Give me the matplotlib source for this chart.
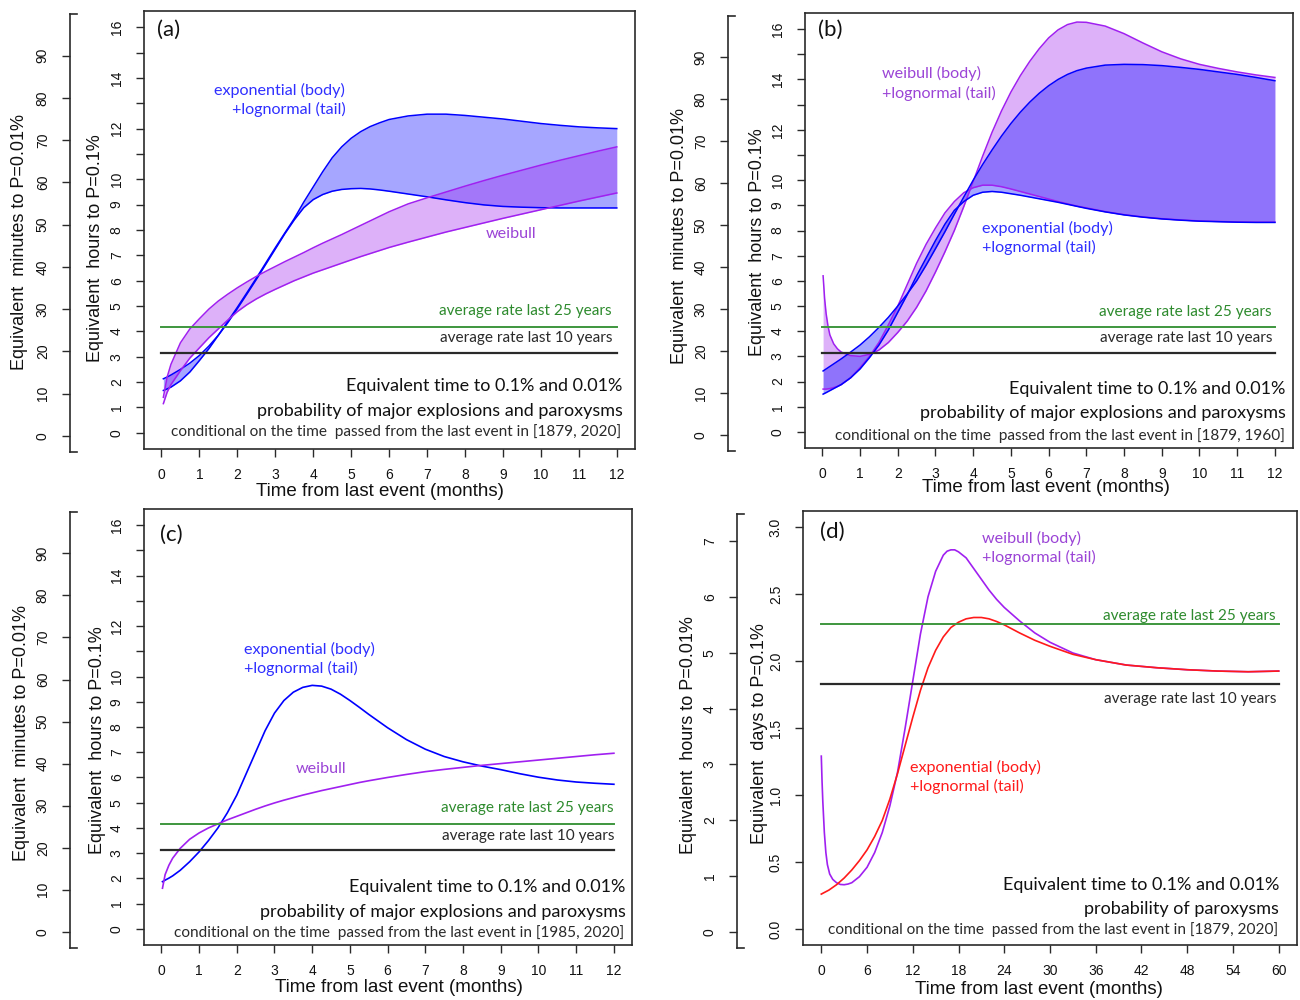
import matplotlib
matplotlib.use('Agg')
import matplotlib.pyplot as plt
from matplotlib.lines import Line2D

W, H = 1300, 1000
plt.rcParams['font.family'] = ['Liberation Sans', 'DejaVu Sans']
ANN_FONT = ['Lato', 'DejaVu Sans']

# ---------------- data (hours to P=0.1%) ----------------
# panel (a), 1879-2020
a_months = [0.05, 0.15, 0.25, 0.5, 0.75, 1, 1.25, 1.5, 1.75, 2, 2.25, 2.5, 2.75, 3, 3.25,
            3.5, 3.75, 4, 4.25, 4.5, 4.75, 5, 5.25, 5.5, 5.75, 6, 6.5, 7, 7.5, 8, 8.5, 9,
            9.5, 10, 10.5, 11, 11.5, 12]
a_exp_hi = [1.67, 1.73, 1.8, 2.05, 2.4, 2.85, 3.32, 3.85, 4.4, 4.95, 5.52, 6.1, 6.7, 7.3,
            7.88, 8.45, 9.1, 9.7, 10.3, 10.85, 11.28, 11.62, 11.88, 12.08, 12.23, 12.36,
            12.5, 12.57, 12.57, 12.52, 12.45, 12.38, 12.29, 12.2, 12.13, 12.07, 12.03, 12.0]
a_exp_lo = [2.13, 2.2, 2.28, 2.5, 2.75, 3.05, 3.42, 3.85, 4.35, 4.9, 5.47, 6.05, 6.65, 7.25,
            7.85, 8.4, 8.88, 9.2, 9.4, 9.53, 9.6, 9.63, 9.64, 9.62, 9.58, 9.53, 9.42, 9.31,
            9.19, 9.08, 8.99, 8.93, 8.9, 8.88, 8.87, 8.87, 8.87, 8.87]
a_wei_hi = [1.4, 2.2, 2.7, 3.55, 4.1, 4.5, 4.88, 5.2, 5.47, 5.72, 5.95, 6.17, 6.37, 6.56,
            6.75, 6.93, 7.11, 7.3, 7.48, 7.65, 7.82, 8.0, 8.18, 8.36, 8.54, 8.72, 9.03, 9.27,
            9.5, 9.73, 9.95, 10.16, 10.36, 10.56, 10.75, 10.93, 11.11, 11.28]
a_wei_lo = [1.15, 1.6, 1.9, 2.45, 2.95, 3.35, 3.75, 4.1, 4.45, 4.78, 5.05, 5.28, 5.48, 5.66,
            5.83, 6.0, 6.15, 6.3, 6.43, 6.56, 6.69, 6.82, 6.95, 7.07, 7.19, 7.31, 7.52, 7.72,
            7.92, 8.1, 8.28, 8.46, 8.63, 8.8, 8.97, 9.14, 9.3, 9.46]

# panel (b), 1879-1960
b_months = [0.02, 0.06, 0.1, 0.15, 0.2, 0.3, 0.4, 0.5, 0.75, 1, 1.25, 1.5, 1.75, 2, 2.25,
            2.5, 2.75, 3, 3.25, 3.5, 3.75, 4, 4.25, 4.5, 4.75, 5, 5.25, 5.5, 5.75, 6, 6.25,
            6.5, 6.75, 7, 7.5, 8, 8.5, 9, 9.5, 10, 10.5, 11, 11.5, 12]
b_wei_a = [6.2, 5.3, 4.7, 4.2, 3.85, 3.5, 3.3, 3.17, 3.03, 3.0, 3.08, 3.25, 3.55, 3.95, 4.4,
           4.95, 5.6, 6.35, 7.15, 8.0, 8.95, 9.95, 10.95, 11.9, 12.75, 13.5, 14.15, 14.72,
           15.22, 15.65, 15.97, 16.18, 16.28, 16.27, 16.12, 15.82, 15.45, 15.1, 14.82, 14.6,
           14.44, 14.3, 14.18, 14.08]
b_wei_b = [1.7, 1.7, 1.7, 1.71, 1.72, 1.76, 1.81, 1.88, 2.15, 2.55, 3.0, 3.55, 4.25, 5.0,
           5.85, 6.7, 7.45, 8.1, 8.7, 9.15, 9.5, 9.7, 9.8, 9.8, 9.74, 9.65, 9.55, 9.45, 9.35,
           9.25, 9.15, 9.06, 8.97, 8.9, 8.75, 8.63, 8.54, 8.47, 8.42, 8.38, 8.36, 8.34, 8.33,
           8.33]
b_exp_a = [2.42, 2.46, 2.5, 2.55, 2.6, 2.7, 2.8, 2.9, 3.17, 3.45, 3.78, 4.15, 4.55, 5.0,
           5.48, 6.0, 6.62, 7.28, 7.95, 8.65, 9.33, 10.0, 10.62, 11.2, 11.75, 12.25, 12.7,
           13.1, 13.45, 13.75, 14.0, 14.2, 14.35, 14.45, 14.57, 14.6, 14.59, 14.55, 14.48,
           14.4, 14.3, 14.2, 14.08, 13.95]
b_exp_b = [1.5, 1.53, 1.56, 1.6, 1.64, 1.72, 1.8, 1.88, 2.15, 2.5, 2.95, 3.45, 4.05, 4.75,
           5.45, 6.2, 6.9, 7.6, 8.25, 8.8, 9.15, 9.4, 9.52, 9.55, 9.52, 9.46, 9.4, 9.33, 9.26,
           9.19, 9.12, 9.04, 8.96, 8.88, 8.74, 8.62, 8.53, 8.46, 8.41, 8.37, 8.35, 8.33, 8.32,
           8.32]

# panel (c), 1985-2020
c_months = [0.03, 0.1, 0.2, 0.3, 0.5, 0.75, 1, 1.25, 1.5, 1.75, 2, 2.25, 2.5, 2.75, 3, 3.25,
            3.5, 3.75, 4, 4.25, 4.5, 4.75, 5, 5.25, 5.5, 6, 6.5, 7, 7.5, 8, 8.5, 9, 9.5, 10,
            10.5, 11, 11.5, 12]
c_exp = [1.87, 1.93, 2.01, 2.1, 2.32, 2.66, 3.05, 3.5, 4.0, 4.6, 5.3, 6.15, 7.0, 7.85, 8.55,
         9.05, 9.38, 9.57, 9.65, 9.62, 9.5, 9.3, 9.05, 8.78, 8.5, 7.97, 7.5, 7.12, 6.83,
         6.62, 6.45, 6.31, 6.15, 6.01, 5.9, 5.82, 5.77, 5.73]
c_wei = [1.61, 2.15, 2.52, 2.8, 3.19, 3.55, 3.8, 4.0, 4.16, 4.32, 4.46, 4.6, 4.74, 4.87,
         4.99, 5.1, 5.2, 5.3, 5.39, 5.48, 5.56, 5.64, 5.72, 5.8, 5.87, 6.0, 6.12, 6.23, 6.32,
         6.4, 6.48, 6.55, 6.62, 6.69, 6.76, 6.83, 6.9, 6.96]

# panel (d), paroxysms only, days to P=0.1%
d_wei_months = [0, 0.1, 0.2, 0.4, 0.6, 0.8, 1.1, 1.5, 2, 2.5, 3, 3.5, 4, 5, 6, 7, 8, 9, 10,
                11, 12, 13, 14, 15, 16, 16.5, 17, 17.5, 18, 19, 20, 21, 22, 23, 24, 26, 28,
                30, 33, 36, 40, 44, 48, 52, 56, 60]
d_wei = [1.29, 1.1, 0.95, 0.72, 0.57, 0.48, 0.41, 0.37, 0.345, 0.332, 0.33, 0.335, 0.345,
         0.39, 0.46, 0.57, 0.72, 0.92, 1.17, 1.5, 1.85, 2.2, 2.48, 2.67, 2.79, 2.82, 2.83,
         2.83, 2.815, 2.77, 2.69, 2.61, 2.53, 2.46, 2.4, 2.3, 2.21, 2.14, 2.06, 2.01, 1.97,
         1.95, 1.935, 1.925, 1.92, 1.925]
d_exp_months = [0, 1, 2, 3, 4, 5, 6, 7, 8, 9, 10, 11, 12, 13, 14, 15, 16, 17, 18, 19, 20,
                21, 22, 23, 24, 26, 28, 30, 33, 36, 40, 44, 48, 52, 56, 60]
d_exp = [0.26, 0.29, 0.33, 0.38, 0.44, 0.51, 0.59, 0.69, 0.81, 0.97, 1.16, 1.37, 1.58, 1.78,
         1.95, 2.08, 2.18, 2.25, 2.29, 2.315, 2.325, 2.325, 2.315, 2.295, 2.27, 2.21, 2.155,
         2.11, 2.05, 2.01, 1.97, 1.95, 1.935, 1.925, 1.92, 1.925]

# average-rate reference levels
rate25_hours = 4.17
rate10_hours = 3.13
rate25_days = 2.28
rate10_days = 1.83

hour_ticks = list(range(0, 17))
hour_labels = [str(v) if (v <= 10 or v % 2 == 0) else '' for v in hour_ticks]
minute_ticks = list(range(0, 100, 10))
day_ticks = [0.0, 0.5, 1.0, 1.5, 2.0, 2.5, 3.0]
day_hour_ticks = list(range(0, 8))
month_ticks_12 = list(range(0, 13))
month_ticks_60 = list(range(0, 61, 6))

BLUE = '#0000FF'
PURPLE = '#A020F0'
RED = '#FF1A1A'
GREEN_LINE = '#3E963E'
GREEN_TXT = '#2E8B2E'
DARK = '#2A2A2A'
BLUE_TXT = '#2F2FFF'
PURPLE_TXT = '#9B44D6'
FILL_ALPHA = 0.35


def px_rect(l, t, r, b):
    return [l / W, 1 - b / H, (r - l) / W, (b - t) / H]


def ftext(x, y, s, ha='right', color=DARK, size=9.8, family=None, **kw):
    plt.gcf().text(x / W, 1 - y / H, s, ha=ha, va='center', color=color, fontsize=size,
                   family=family or ANN_FONT, **kw)


def make_panel(fig, box, bracket_x, xlim, xticks, ylim, yticks, ylabels,
               factor, outer_ticks, outer_fmt):
    l, t, r, b = box
    ax = fig.add_axes(px_rect(l, t, r, b))
    ax.set_xlim(*xlim)
    ax.set_ylim(*ylim)
    for sp in ax.spines.values():
        sp.set_color(DARK)
        sp.set_linewidth(1.2)
    ax.set_xticks(xticks)
    ax.set_xticklabels([str(v) for v in xticks])
    ax.set_yticks(yticks)
    ax.set_yticklabels(ylabels, rotation=90, va='center')
    ax.tick_params(direction='out', length=5.5, width=1, color=DARK, labelsize=10,
                   labelcolor='#111111')
    ax.tick_params(axis='x', pad=8)
    ax.tick_params(axis='y', pad=9)

    # outer (bracket) axis, same data scaled by factor
    ax2 = fig.add_axes(px_rect(l, t + 3, r, b + 3))
    ax2.patch.set_visible(False)
    ax2.set_ylim(ylim[0] * factor, ylim[1] * factor)
    for k in ['top', 'right', 'bottom']:
        ax2.spines[k].set_visible(False)
    ax2.spines['left'].set_position(('outward', (l - bracket_x) * 0.72))
    ax2.spines['left'].set_color(DARK)
    ax2.spines['left'].set_linewidth(1.2)
    ax2.set_xticks([])
    ax2.set_yticks(outer_ticks)
    ax2.set_yticklabels([outer_fmt(v) for v in outer_ticks], rotation=90, va='center')
    ax2.tick_params(direction='out', length=5.5, width=1, color=DARK, labelsize=10,
                    labelcolor='#111111', pad=9)
    for yy in (t + 3, b + 3):
        fig.add_artist(Line2D([bracket_x / W, (bracket_x + 7) / W], [1 - yy / H] * 2,
                              color=DARK, lw=1.2))
    return ax


def rate_lines(ax, x0, x1, g, k):
    ax.plot([x0, x1], [g, g], color=GREEN_LINE, lw=1.4)
    ax.plot([x0, x1], [k, k], color=DARK, lw=1.6)


def main():
    fig = plt.figure(figsize=(W / 100, H / 100), dpi=100)
    xl12 = (-0.46, 12.48)
    yl16 = (-0.64, 16.64)
    mins = lambda v: str(v)

    # ---------- (a) ----------
    ax = make_panel(fig, (144, 11, 635, 449), 70, xl12, month_ticks_12, yl16,
                    hour_ticks, hour_labels, 6, minute_ticks, mins)
    ax.fill_between(a_months, a_exp_lo, a_exp_hi, color=BLUE, alpha=FILL_ALPHA, lw=0)
    ax.plot(a_months, a_exp_hi, color=BLUE, lw=1.1)
    ax.plot(a_months, a_exp_lo, color=BLUE, lw=1.1)
    ax.fill_between(a_months, a_wei_lo, a_wei_hi, color=PURPLE, alpha=FILL_ALPHA, lw=0)
    ax.plot(a_months, a_wei_hi, color=PURPLE, lw=1.1)
    ax.plot(a_months, a_wei_lo, color=PURPLE, lw=1.1)
    rate_lines(ax, 0, 12, rate25_hours, rate10_hours)

    # ---------- (b) ----------
    ax = make_panel(fig, (805, 13, 1293, 448), 728, xl12, month_ticks_12, yl16,
                    hour_ticks, hour_labels, 6, minute_ticks, mins)
    ax.fill_between(b_months, b_wei_b, b_wei_a, color=PURPLE, alpha=FILL_ALPHA, lw=0)
    ax.plot(b_months, b_wei_a, color=PURPLE, lw=1.1)
    ax.plot(b_months, b_wei_b, color=PURPLE, lw=1.1)
    ax.fill_between(b_months, b_exp_b, b_exp_a, color=BLUE, alpha=FILL_ALPHA, lw=0)
    ax.plot(b_months, b_exp_a, color=BLUE, lw=1.1)
    ax.plot(b_months, b_exp_b, color=BLUE, lw=1.1)
    rate_lines(ax, 0, 12, rate25_hours, rate10_hours)

    # ---------- (c) ----------
    ax = make_panel(fig, (144, 509, 632, 945), 70, xl12, month_ticks_12, yl16,
                    hour_ticks, hour_labels, 6, minute_ticks, mins)
    ax.plot(c_months, c_exp, color=BLUE, lw=1.2)
    ax.plot(c_months, c_wei, color=PURPLE, lw=1.2)
    rate_lines(ax, 0, 12, rate25_hours, rate10_hours)

    # ---------- (d) ----------
    ax = make_panel(fig, (803, 511, 1297, 945), 737, (-2.4, 62.4), month_ticks_60,
                    (-0.12, 3.12), day_ticks, ['%.1f' % v for v in day_ticks],
                    2.4, day_hour_ticks, mins)
    ax.plot(d_wei_months, d_wei, color=PURPLE, lw=1.2)
    ax.plot(d_exp_months, d_exp, color=RED, lw=1.2)
    rate_lines(ax, 0, 60, rate25_days, rate10_days)

    # ---------- axis titles ----------
    tsz = 13
    for x, y, s in [(20, 242, 'Equivalent  minutes to P=0.01%'),
                    (95, 248, 'Equivalent  hours to P=0.1%'),
                    (680, 236, 'Equivalent  minutes to P=0.01%'),
                    (757, 242, 'Equivalent  hours to P=0.1%'),
                    (22, 733, 'Equivalent  minutes to P=0.01%'),
                    (97, 740, 'Equivalent  hours to P=0.1%'),
                    (688, 735, 'Equivalent  hours to P=0.01%'),
                    (760, 734, 'Equivalent  days to P=0.1%')]:
        ftext(x, y, s, ha='center', color='#111111', size=tsz,
              family=['Liberation Sans'], rotation=90)
    for x, y, s in [(380, 491, 'Time from last event (months)'),
                    (1046, 488, 'Time from last event (months)'),
                    (399, 987, 'Time from last event (months)'),
                    (1039, 989, 'Time from last event (months)')]:
        ftext(x, y, s, ha='center', color='#111111', size=13.5, family=['Liberation Sans'])

    # ---------- annotations ----------
    big, mid, small, tag = 13, 11.6, 11.1, 16
    # (a)
    ftext(157, 30, '(a)', ha='left', color='#111111', size=tag)
    ftext(345, 90, 'exponential (body)', color=BLUE_TXT, size=mid)
    ftext(346, 109, '+lognormal (tail)', color=BLUE_TXT, size=mid)
    ftext(511, 234, 'weibull', ha='center', color=PURPLE_TXT, size=mid)
    ftext(612, 311, 'average rate last 25 years', color=GREEN_TXT, size=small)
    ftext(612, 338, 'average rate last 10 years', size=small)
    ftext(622, 386, 'Equivalent time to 0.1% and 0.01%', color='#111111', size=big)
    ftext(623, 411, 'probability of major explosions and paroxysms', color='#111111', size=big)
    ftext(621, 432, 'conditional on the time  passed from the last event in [1879, 2020]',
          size=small)
    # (b)
    ftext(818, 30, '(b)', ha='left', color='#111111', size=tag)
    ftext(882, 73, 'weibull (body)', ha='left', color=PURPLE_TXT, size=mid)
    ftext(882, 93, '+lognormal (tail)', ha='left', color=PURPLE_TXT, size=mid)
    ftext(982, 228, 'exponential (body)', ha='left', color=BLUE_TXT, size=mid)
    ftext(982, 247, '+lognormal (tail)', ha='left', color=BLUE_TXT, size=mid)
    ftext(1272, 312, 'average rate last 25 years', color=GREEN_TXT, size=small)
    ftext(1272, 338, 'average rate last 10 years', size=small)
    ftext(1285, 389, 'Equivalent time to 0.1% and 0.01%', color='#111111', size=big)
    ftext(1286, 413, 'probability of major explosions and paroxysms', color='#111111', size=big)
    ftext(1285, 436, 'conditional on the time  passed from the last event in [1879, 1960]',
          size=small)
    # (c)
    ftext(160, 535, '(c)', ha='left', color='#111111', size=tag)
    ftext(244, 649, 'exponential (body)', ha='left', color=BLUE_TXT, size=mid)
    ftext(244, 668, '+lognormal (tail)', ha='left', color=BLUE_TXT, size=mid)
    ftext(321, 769, 'weibull', ha='center', color=PURPLE_TXT, size=mid)
    ftext(614, 808, 'average rate last 25 years', color=GREEN_TXT, size=small)
    ftext(614, 836, 'average rate last 10 years', size=small)
    ftext(625, 887, 'Equivalent time to 0.1% and 0.01%', color='#111111', size=big)
    ftext(626, 912, 'probability of major explosions and paroxysms', color='#111111', size=big)
    ftext(624, 933, 'conditional on the time  passed from the last event in [1985, 2020]',
          size=small)
    # (d)
    ftext(820, 532, '(d)', ha='left', color='#111111', size=tag)
    ftext(982, 538, 'weibull (body)', ha='left', color=PURPLE_TXT, size=mid)
    ftext(982, 557, '+lognormal (tail)', ha='left', color=PURPLE_TXT, size=mid)
    ftext(1276, 616, 'average rate last 25 years', color=GREEN_TXT, size=small)
    ftext(1276, 699, 'average rate last 10 years', size=small)
    ftext(910, 767, 'exponential (body)', ha='left', color=RED, size=mid)
    ftext(910, 786, '+lognormal (tail)', ha='left', color=RED, size=mid)
    ftext(1279, 885, 'Equivalent time to 0.1% and 0.01%', color='#111111', size=big)
    ftext(1279, 909, 'probability of paroxysms', color='#111111', size=big)
    ftext(1278, 930, 'conditional on the time  passed from the last event in [1879, 2020]',
          size=small)

    fig.savefig('out.png', dpi=100, facecolor='white')
    plt.close('all')


if __name__ == '__main__':
    main()
